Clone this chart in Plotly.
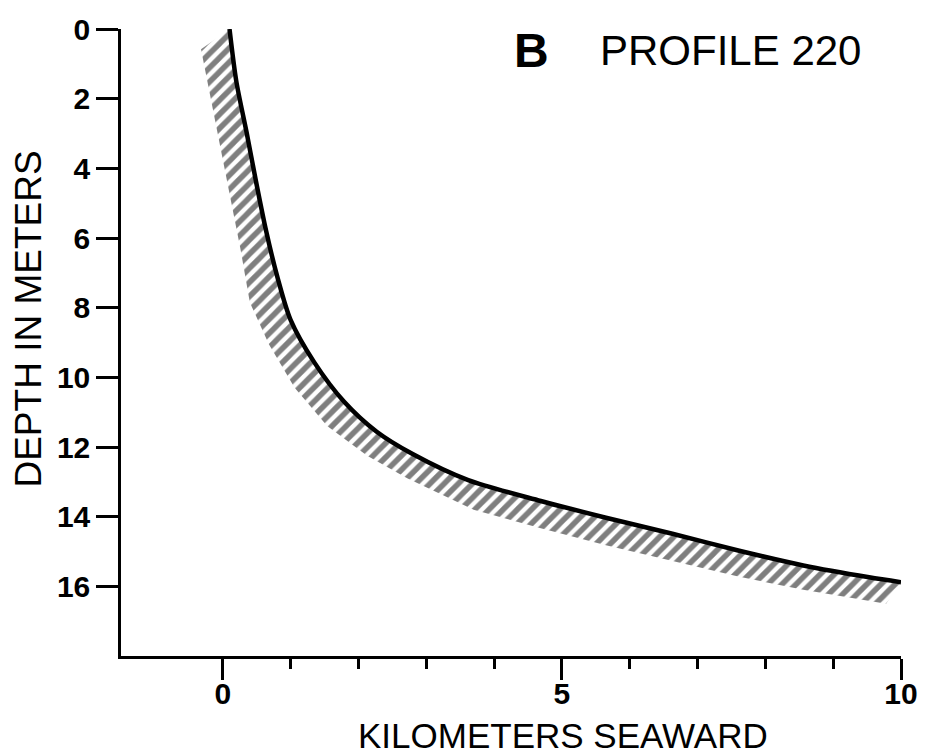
import plotly.graph_objects as go

# Profile 220: seabed depth (m) versus distance seaward (km)
profile_km = [0.1, 0.2, 0.35, 0.49, 0.64, 0.81, 1.0, 1.35, 1.79, 2.27, 2.8, 3.62,
              4.69, 5.65, 6.63, 7.6, 8.56, 9.53, 10.0]
profile_depth = [0.0, 1.5, 2.95, 4.37, 5.8, 7.15, 8.35, 9.57, 10.7, 11.56, 12.2, 12.95,
                 13.55, 14.03, 14.49, 14.97, 15.4, 15.74, 15.88]

# lower/left edge of the hatched (sediment) band
hatch_km = [-0.32, -0.18, -0.03, 0.11, 0.26, 0.4, 0.68, 1.06, 1.54, 2.13, 2.72, 3.7,
            4.69, 5.65, 6.63, 7.6, 8.56, 9.53, 9.78]
hatch_depth = [0.58, 2.0, 3.4, 4.83, 6.3, 7.85, 9.05, 10.3, 11.4, 12.25, 12.9, 13.8,
               14.33, 14.82, 15.28, 15.72, 16.1, 16.42, 16.5]

x_major = [0, 5, 10]
x_major_text = ["0", "5", "10"]
x_minor = [1, 2, 3, 4, 6, 7, 8, 9]
y_ticks = [0, 2, 4, 6, 8, 10, 12, 14, 16]
y_tick_text = ["0", "2", "4", "6", "8", "10", "12", "14", "16"]

FONT = "Liberation Sans, Arial, Helvetica, sans-serif"
TICK_FONT = dict(size=30, family=FONT, color="black", weight="bold")

W, H = 930, 755
L, R, T, B = 121, 18, 23, 99
PW, PH = W - L - R, H - T - B


def px(xw):
    return (xw - L) / PW


def py(yw):
    return (H - B - yw) / PH


fig = go.Figure()

fig.add_trace(go.Scatter(
    x=profile_km + hatch_km[::-1],
    y=profile_depth + hatch_depth[::-1],
    fill="toself",
    mode="lines",
    line=dict(width=0, color="rgba(0,0,0,0)"),
    fillcolor="white",
    fillpattern=dict(shape="/", fgcolor="black", bgcolor="white", size=10, solidity=0.55),
    hoverinfo="skip",
    showlegend=False,
))

fig.add_trace(go.Scatter(
    x=profile_km,
    y=profile_depth,
    mode="lines",
    line=dict(color="black", width=4.5, shape="spline", smoothing=0.8),
    showlegend=False,
))

fig.update_layout(
    width=W,
    height=H,
    margin=dict(l=L, r=R, t=T, b=B),
    paper_bgcolor="white",
    plot_bgcolor="white",
    font=dict(family=FONT, color="black"),
    xaxis=dict(
        range=[-1.5, 10],
        showgrid=False,
        zeroline=False,
        showline=True,
        linecolor="black",
        linewidth=2.5,
        tickmode="array",
        tickvals=x_major,
        ticktext=x_major_text,
        ticks="outside",
        ticklen=21,
        tickwidth=2.5,
        tickcolor="black",
        tickfont=TICK_FONT,
        ticklabelstandoff=-12,
        ticklabeloverflow="allow",
        minor=dict(tickmode="array", tickvals=x_minor, ticks="outside",
                   ticklen=10, tickwidth=2.5, tickcolor="black", showgrid=False),
    ),
    yaxis=dict(
        range=[18, 0],
        showgrid=False,
        zeroline=False,
        showline=True,
        linecolor="black",
        linewidth=2.5,
        tickmode="array",
        tickvals=y_ticks,
        ticktext=y_tick_text,
        ticks="outside",
        ticklen=22,
        tickwidth=2.5,
        tickcolor="black",
        tickfont=TICK_FONT,
        ticklabeloverflow="allow",
    ),
    annotations=[
        dict(text="KILOMETERS SEAWARD", xref="paper", yref="paper",
             x=px(569), y=py(736), xanchor="center", yanchor="middle",
             showarrow=False, font=dict(size=35, family=FONT, color="black")),
        dict(text="DEPTH IN METERS", xref="paper", yref="paper",
             x=px(27), y=py(316), xanchor="center", yanchor="middle",
             textangle=-90, showarrow=False, font=dict(size=37, family=FONT, color="black")),
        dict(text="<b>B</b>", xref="paper", yref="paper",
             x=px(537), y=py(45), xanchor="center", yanchor="middle",
             showarrow=False, font=dict(size=48, family=FONT, color="black")),
        dict(text="PROFILE 220", xref="paper", yref="paper",
             x=px(605), y=py(45), xanchor="left", yanchor="middle",
             showarrow=False, font=dict(size=42, family=FONT, color="black")),
    ],
)

fig.write_html(
    "out.html",
    config={"displayModeBar": False},
    post_script="document.documentElement.style.margin='0';"
                "document.body.style.margin='0';"
                "document.body.style.overflow='hidden';",
)
